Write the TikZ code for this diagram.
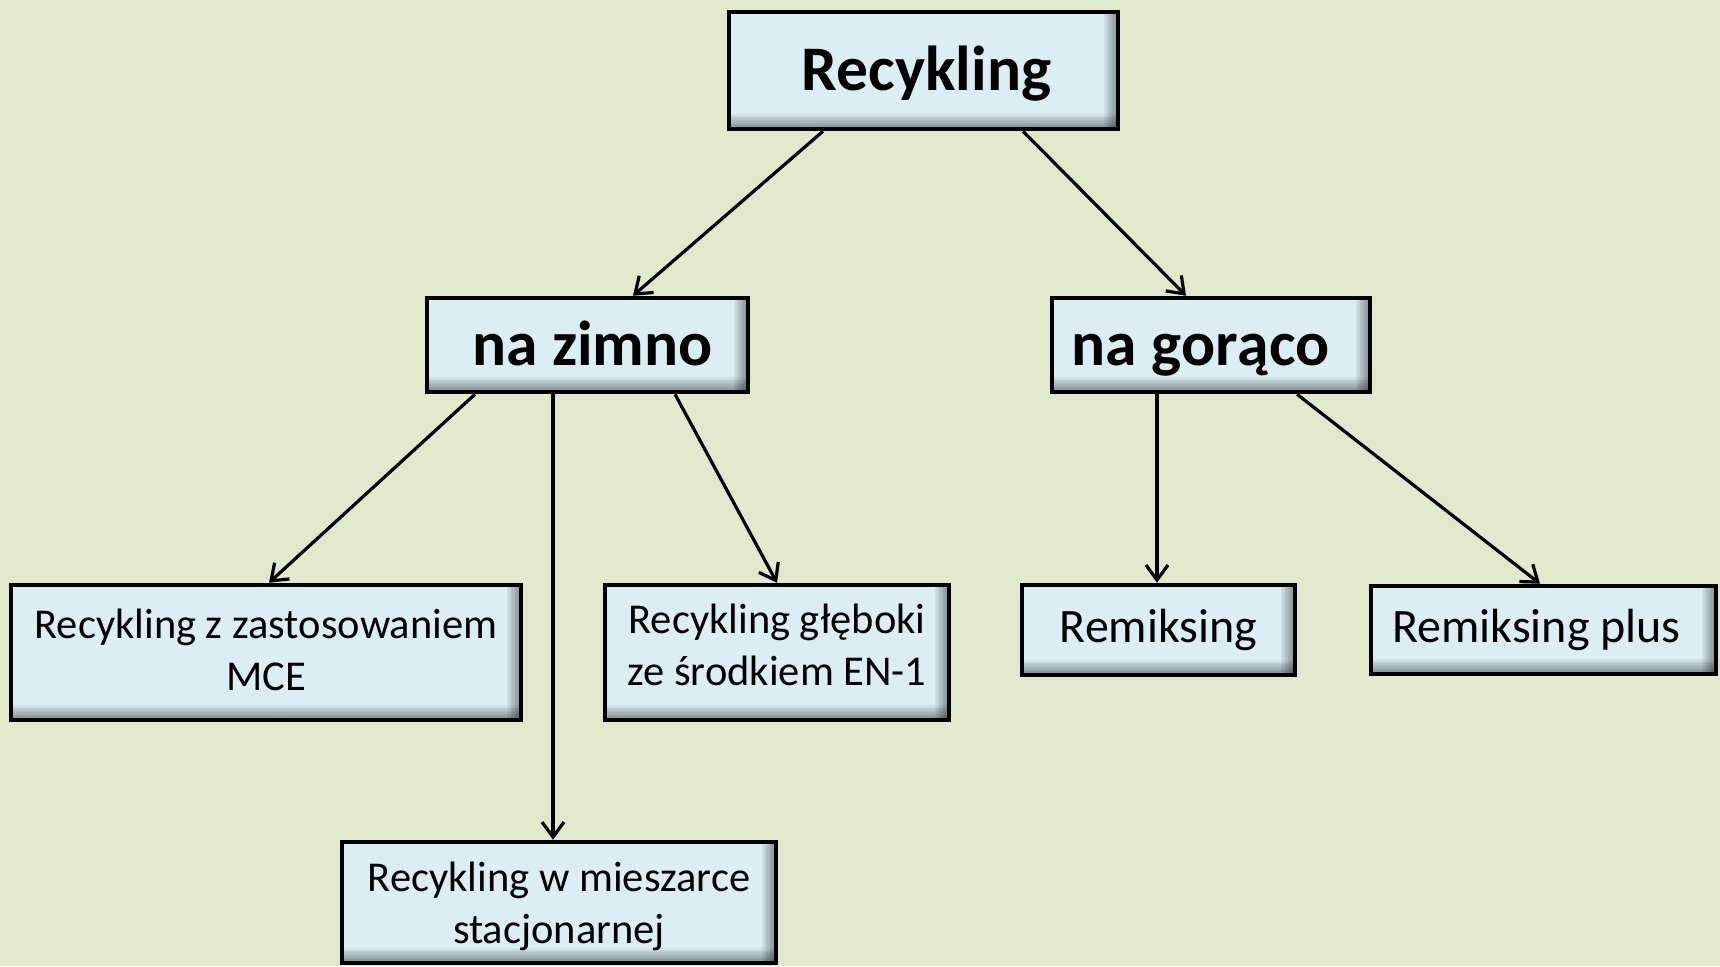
\documentclass[tikz,border=0pt]{standalone}
\usepackage{fontspec}
\setmainfont{Carlito}
\usetikzlibrary{arrows.meta}
\definecolor{bgcol}{RGB}{224,233,203}
\definecolor{boxfill}{RGB}{219,238,244}
\tikzset{
  box/.style={draw=black, line width=4.5pt, fill=boxfill, align=center, inner sep=0pt,
    path picture={
      \foreach \i in {1,...,9}{
        \fill[black, opacity=0.045]
          (path picture bounding box.south west) rectangle ([yshift=2.2pt+\i*1.4pt]path picture bounding box.south east);
        \fill[black, opacity=0.045]
          ([xshift=-2.2pt-\i*1.3pt]path picture bounding box.north east) rectangle (path picture bounding box.south east);
      }
    }},
  bigtxt/.style={font=\fontsize{63.5}{70}\selectfont\bfseries, text height=50pt, text depth=10pt},
  midtxt/.style={font=\fontsize{42.5}{52}\selectfont, text depth=13pt},
  remtxt/.style={font=\fontsize{48}{56}\selectfont, text height=36pt, text depth=12pt},
  arr/.style={line width=3.2pt, -{Straight Barb[length=15pt,width=22pt,line width=3.2pt]}}
}
\begin{document}
\begin{tikzpicture}[x=1pt,y=1pt]
\fill[bgcol] (0,0) rectangle (1720,-966);
\useasboundingbox (0,0) rectangle (1720,-966);

\node[box, bigtxt, minimum width=389pt, minimum height=117pt] (top) at (923.5,-70.5) {\hspace*{6pt}Recykling};
\node[box, bigtxt, minimum width=321pt, minimum height=94pt] (zimno) at (587.5,-345) {\hspace*{10pt}na zimno};
\node[box, bigtxt, minimum width=318pt, minimum height=94pt] (goraco) at (1211,-345) {\hspace*{-21pt}na gorąco};

\node[box, midtxt, text height=88pt, minimum width=510pt, minimum height=135pt] (mce) at (266,-652.5) {Recykling z zastosowaniem\\MCE};
\node[box, midtxt, text height=78pt, minimum width=344pt, minimum height=135pt] (gleb) at (777,-652.5) {Recykling głęboki\\ze środkiem EN-1};
\node[box, midtxt, text height=94pt, minimum width=434pt, minimum height=121pt] (mies) at (559,-902.5) {Recykling w mieszarce\\stacjonarnej};
\node[box, remtxt, minimum width=273pt, minimum height=90pt] (rem) at (1158.5,-630) {Remiksing};
\node[box, remtxt, minimum width=345pt, minimum height=88pt] (remp) at (1543.5,-630) {\hspace*{-14pt}Remiksing plus};

\draw[arr] ([xshift=-100.5pt]top.south) -- ([xshift=45.5pt]zimno.north);
\draw[arr] ([xshift=99.5pt]top.south) -- ([xshift=-25pt]goraco.north);
\draw[arr] ([xshift=-112.5pt]zimno.south) -- ([xshift=3pt]mce.north);
\draw[arr] ([xshift=-34.5pt]zimno.south) -- ([xshift=-6pt]mies.north);
\draw[arr] ([xshift=87.5pt]zimno.south) -- (gleb.north);
\draw[arr] ([xshift=-54pt]goraco.south) -- ([xshift=-1.5pt]rem.north);
\draw[arr] ([xshift=86pt]goraco.south) -- ([xshift=-3.5pt]remp.north);
\end{tikzpicture}
\end{document}
